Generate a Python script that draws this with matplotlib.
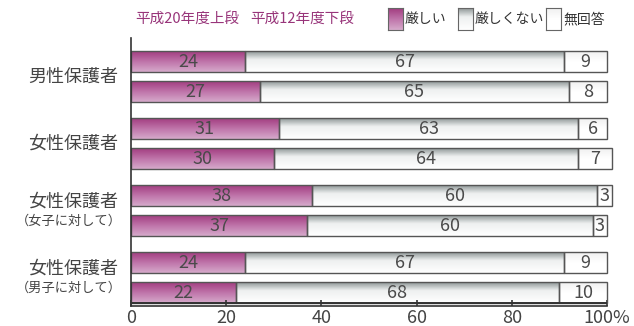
import matplotlib
matplotlib.use("Agg")
import matplotlib.pyplot as plt
import numpy as np
from matplotlib.colors import LinearSegmentedColormap
from matplotlib.patches import Rectangle

plt.rcParams["font.family"] = ["Noto Sans CJK JP", "DejaVu Sans"]

# data: one entry per bar, top to bottom (平成20年度 above, 平成12年度 below)
groups = ["男性保護者", "女性保護者", "女性保護者", "女性保護者"]
subtitles = ["", "", "（女子に対して）", "（男子に対して）"]
strict = [24, 27, 31, 30, 38, 37, 24, 22]
not_strict = [67, 65, 63, 64, 60, 60, 67, 68]
no_answer = [9, 8, 6, 7, 3, 3, 9, 10]
series_names = ["厳しい", "厳しくない", "無回答"]
header = ["平成20年度上段", "平成12年度下段"]
ticks = [0, 20, 40, 60, 80, 100]
tick_labels = ["0", "20", "40", "60", "80", "100%"]

W, H = 634, 326
GROUP_GAP = 67
ROW_GAP = 30
BAR_H = 21

pink_cm = LinearSegmentedColormap.from_list("pink", ["#a23d80", "#bf74aa", "#d6aacb"])
grey_cm = LinearSegmentedColormap.from_list(
    "grey", [(0, "#8e9696"), (0.4, "#eef0f0"), (1, "#ffffff")])
white_cm = LinearSegmentedColormap.from_list("white", ["#f0f0f0", "#ffffff", "#ffffff"])
cmaps = [pink_cm, grey_cm, white_cm]
grad = np.linspace(0, 1, 64).reshape(-1, 1)

fig = plt.figure(figsize=(W / 100, H / 100), dpi=100)
ax = fig.add_axes([131 / W, 20 / H, 476 / W, 268 / H])

edge = "#555555"
text_col = "#444444"

ypos = []
for g in range(len(groups)):
    for r in range(2):
        ypos.append(g * GROUP_GAP + r * ROW_GAP)

for i, y in enumerate(ypos):
    left = 0
    for k, vals in enumerate([strict, not_strict, no_answer]):
        w = vals[i]
        ax.imshow(grad, extent=[left, left + w, y + BAR_H / 2, y - BAR_H / 2],
                  aspect="auto", cmap=cmaps[k], vmin=0, vmax=1, zorder=1,
                  interpolation="bilinear", clip_on=False)
        ax.add_patch(Rectangle((left, y - BAR_H / 2), w, BAR_H, fill=False,
                               edgecolor=edge, lw=1.0, zorder=2, clip_on=False))
        ax.text(left + w / 2, y + 0.5, str(w), ha="center", va="center",
                fontsize=13, color="#4a4a4a", zorder=3)
        left += w

for g, name in enumerate(groups):
    mid = g * GROUP_GAP + ROW_GAP / 2
    if subtitles[g]:
        ax.text(-2.7, mid - 9, name, ha="right", va="center", fontsize=13, color=text_col)
        ax.text(-2.0, mid + 11, subtitles[g], ha="right", va="center", fontsize=9.5,
                color=text_col)
    else:
        ax.text(-2.7, mid, name, ha="right", va="center", fontsize=13, color=text_col)

ax.set_xlim(0, 100)
ax.set_ylim(ypos[-1] + 13.5, -23.5)
ax.set_yticks([])
ax.set_xticks(ticks)
ax.set_xticklabels(tick_labels, fontsize=13, color=text_col)
ax.tick_params(axis="x", direction="in", length=4, width=1.2, color="#333333", pad=2)
for s in ["top", "right"]:
    ax.spines[s].set_visible(False)
ax.spines["left"].set_linewidth(1.2)
ax.spines["left"].set_color("#333333")
ax.spines["bottom"].set_linewidth(1.2)
ax.spines["bottom"].set_color("#333333")
ax.axhline(ypos[-1] + BAR_H / 2 + 0.3, color="#333333", lw=1.4, zorder=4)

# header
fig.text(135 / W, 1 - 19 / H, header[0], ha="left", va="center", fontsize=10.5,
         color="#98357a")
fig.text(250 / W, 1 - 19 / H, header[1], ha="left", va="center", fontsize=10.5,
         color="#98357a")

# legend swatches
sw_x = [388, 458, 546]
for k, name in enumerate(series_names):
    sax = fig.add_axes([sw_x[k] / W, 1 - 30 / H, 15 / W, 22 / H])
    sax.imshow(grad, aspect="auto", cmap=cmaps[k], vmin=0, vmax=1,
               extent=[0, 1, 1, 0])
    sax.set_xticks([])
    sax.set_yticks([])
    for s in sax.spines.values():
        s.set_color("#666666")
        s.set_linewidth(0.8)
    fig.text((sw_x[k] + 17) / W, 1 - 19 / H, name, ha="left", va="center",
             fontsize=10, color="#333333")

fig.savefig("out.png", dpi=100)
